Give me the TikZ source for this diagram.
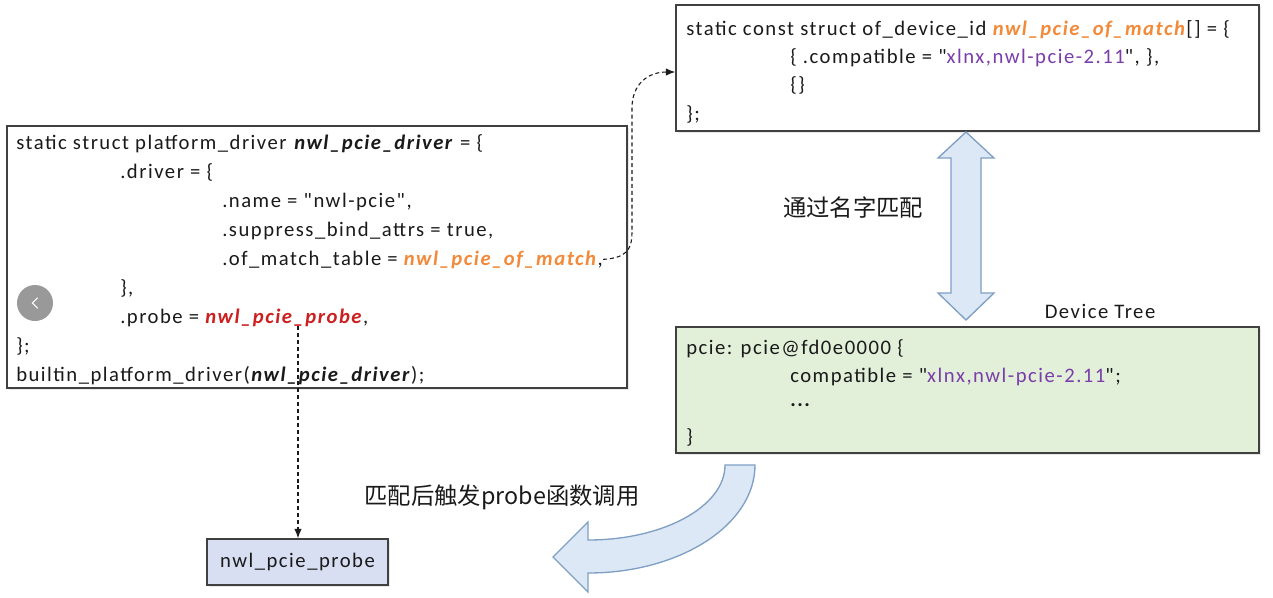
\documentclass[tikz,border=0pt]{standalone}
\usepackage{fontspec}
\setmainfont{Carlito}[Ligatures=TeXOff,LetterSpace=7.3]
\newfontfamily\cjk{Noto Sans CJK SC}
\usetikzlibrary{arrows.meta,shadows}
\definecolor{txt}{HTML}{1A1A1A}
\definecolor{cor}{HTML}{F28A3A}
\definecolor{cred}{HTML}{CC1F1F}
\definecolor{cpur}{HTML}{7A3DAA}
\definecolor{gfill}{HTML}{E2EFD9}
\definecolor{pfill}{HTML}{D9DFF2}
\definecolor{afill}{HTML}{DCE8F5}
\definecolor{aline}{HTML}{7F9FC4}
\definecolor{bline}{HTML}{404040}
\newcommand{\bi}[1]{\textbf{\textit{#1}}}
\begin{document}
\begin{tikzpicture}[x=0.75pt,y=-0.75pt,
  box/.style={draw=bline,line width=1.1pt,rectangle,inner sep=0,
    drop shadow={opacity=0.18,shadow xshift=1.2pt,shadow yshift=-1.2pt}},
  code/.style={anchor=base west,inner sep=0,font=\fontsize{15.5}{18}\selectfont,text=txt},
  cjkl/.style={inner sep=0,font=\cjk\fontsize{17.5}{20}\selectfont,text=txt},
  dconn/.style={draw=txt,line width=0.8pt,dash pattern=on 3pt off 2.2pt,-{Latex[length=7pt,width=5.5pt]}},
  bigarrow/.style={fill=afill,draw=aline,line width=1pt,line join=miter}]
\useasboundingbox (0,0) rectangle (1273,597);
% boxes
\node[box,fill=white,minimum width=465pt,minimum height=196.5pt] (lb) at (317,257) {};
\node[box,fill=white,minimum width=437.25pt,minimum height=94.5pt] (tb) at (967.5,68) {};
\node[box,fill=gfill,minimum width=437.25pt,minimum height=94.5pt] (db) at (967.5,390) {};
\node[box,fill=pfill,minimum width=135.75pt,minimum height=34.5pt,font=\fontsize{15.5}{18}\selectfont,text=txt] (pb) at (297.5,562) {nwl\_pcie\_probe};
% left box text
\node[code] (l1) at (16,149) {static struct platform\_driver \bi{nwl\_pcie\_driver} = \{};
\node[code] (l2) at (120,178) {.driver = \{};
\node[code] (l3) at (222,207) {.name = "nwl-pcie",};
\node[code] (l4) at (222,236) {.suppress\_bind\_attrs = true,};
\node[code] (l5) at (222,265) {.of\_match\_table = {\color{cor}\bi{nwl\_pcie\_of\_match}},};
\node[code] (l6) at (120,294) {\},};
\node[code] (l7) at (120,323) {.probe = {\color{cred}\bi{nwl\_pcie\_probe}},};
\node[code] (l8) at (16,352) {\};};
\node[code] (l9) at (16,381) {builtin\_platform\_driver(\bi{nwl\_pcie\_driver});};
% top box text
\node[code] (t1) at (686,35) {static const struct of\_device\_id {\color{cor}\bi{nwl\_pcie\_of\_match}}[] = \{};
\node[code] (t2) at (790,63) {\{ .compatible = "{\color{cpur}xlnx,nwl-pcie-2.11}", \},};
\node[code] (t3) at (790,91) {\{\}};
\node[code] (t4) at (686,120) {\};};
% device tree text
\node[code,anchor=center] (dtl) at (1100,311) {Device Tree};
\node[code] (d1) at (686,354) {pcie: pcie@fd0e0000 \{};
\node[code] (d2) at (790,382) {compatible = "{\color{cpur}xlnx,nwl-pcie-2.11}";};
\node[code] (d3) at (790,406) {\textbf{...}};
\node[code] (d4) at (686,443) {\}};
% chinese labels
\node[cjkl] (m1) at (853,208) {通过名字匹配};
\node[cjkl] (m2) at (502,497) {匹配后触发probe函数调用};
% double arrow
\draw[bigarrow] (966,132) -- (994,158) -- (981,158) -- (981,293) -- (994,293) -- (966,320)
  -- (938,293) -- (951,293) -- (951,158) -- (938,158) -- cycle;
% curved arrow
\draw[bigarrow] (725,465) -- (755,465)
  arc[start angle=0,end angle=90,x radius=167,y radius=108]
  -- (588,592) -- (553,557) -- (588,522) -- (588,540)
  arc[start angle=90,end angle=0,x radius=137,y radius=75] -- cycle;
% connectors
\coordinate (ps) at (298,326);
\draw[dconn] (ps) -- (pb.north -| ps);
\draw[dconn] (l5.east) .. controls (626,258) and (632,250) .. (632,232)
  -- (632,108) .. controls (632,84) and (648,72) .. ([yshift=-3pt]tb.west);
% slider overlay
\node[circle,fill=black!40,minimum size=27pt,inner sep=0] (nav) at (35,303) {};
\draw[white,line width=0.8pt] ([xshift=2pt,yshift=4pt]nav.center) -- ([xshift=-2pt]nav.center) -- ([xshift=2pt,yshift=-4pt]nav.center);
\end{tikzpicture}
\end{document}
